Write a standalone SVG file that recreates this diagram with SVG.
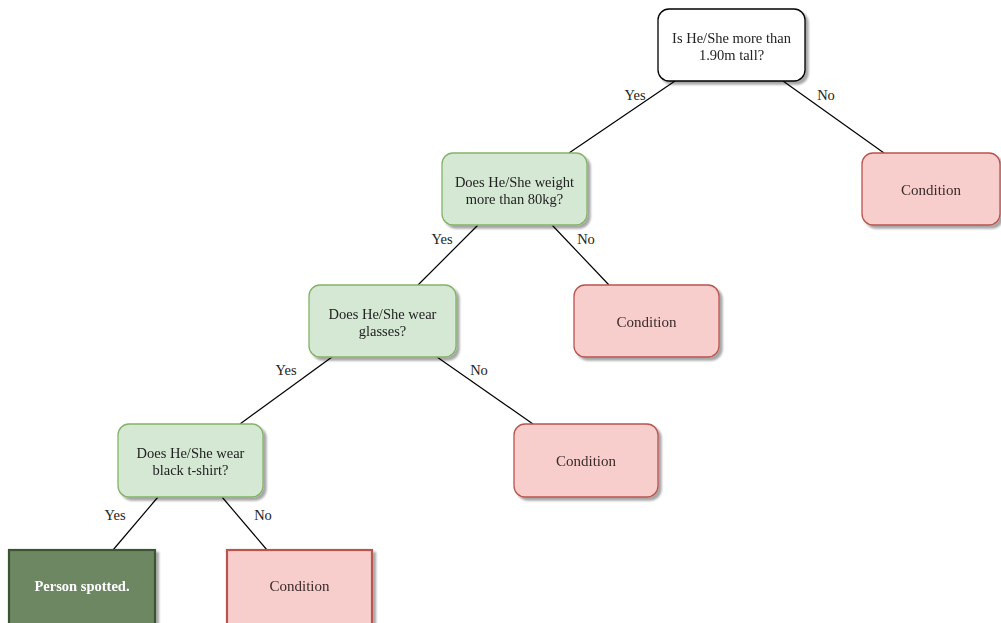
<svg xmlns="http://www.w3.org/2000/svg" width="1001" height="623" viewBox="0 0 1001 623">
  <defs>
    <filter id="shadow" x="-10%" y="-10%" width="130%" height="140%">
      <feGaussianBlur in="SourceAlpha" stdDeviation="1.2"/>
      <feOffset dx="3" dy="3" result="off"/>
      <feComponentTransfer><feFuncA type="linear" slope="0.35"/></feComponentTransfer>
      <feMerge><feMergeNode/><feMergeNode in="SourceGraphic"/></feMerge>
    </filter>
  </defs>
  <style>
    .q { fill: #ffffff; stroke: #000000; stroke-width: 1.3; }
    .g { fill: #d5e8d4; stroke: #82b366; stroke-width: 1.3; }
    .p { fill: #f8cecc; stroke: #b85450; stroke-width: 1.3; }
    .pb { fill: #f8cecc; stroke: #b85450; stroke-width: 2.2; }
    .ok { fill: #6d8764; stroke: #3a5431; stroke-width: 2.2; }
    text { font-family: "Liberation Serif", "Times New Roman", serif; font-size: 14.5px; fill: #222; text-anchor: middle; }
    .c { font-size: 15px; fill: #3a2a2a; }
    .lbl { font-size: 14.5px; fill: #222; }
    .w { fill: #ffffff; font-weight: bold; }
    .edge { stroke: #000000; stroke-width: 1.2; fill: none; }
  </style>
  <rect width="1001" height="623" fill="#ffffff"/>

  <!-- connectors -->
  <g id="connectors">
    <line class="edge" x1="675" y1="81" x2="569" y2="153"/>
    <line class="edge" x1="783" y1="81" x2="884" y2="153"/>
    <line class="edge" x1="478" y1="225" x2="418" y2="285"/>
    <line class="edge" x1="552" y1="225" x2="609" y2="285"/>
    <line class="edge" x1="332" y1="357" x2="240" y2="424"/>
    <line class="edge" x1="437" y1="357" x2="533" y2="424"/>
    <line class="edge" x1="158" y1="497" x2="113" y2="550"/>
    <line class="edge" x1="222" y1="497" x2="267" y2="550"/>
    <text class="lbl" x="635" y="100">Yes</text>
    <text class="lbl" x="826" y="100">No</text>
    <text class="lbl" x="442" y="244">Yes</text>
    <text class="lbl" x="586" y="244">No</text>
    <text class="lbl" x="286" y="375">Yes</text>
    <text class="lbl" x="479" y="375">No</text>
    <text class="lbl" x="115" y="520">Yes</text>
    <text class="lbl" x="263" y="520">No</text>
  </g>

  <g id="tall" filter="url(#shadow)">
    <rect class="q" x="658" y="9" width="147" height="72" rx="11"/>
    <text x="731.5" y="43">Is He/She more than</text>
    <text x="731.5" y="60">1.90m tall?</text>
  </g>

  <g id="weight" filter="url(#shadow)">
    <rect class="g" x="442" y="153" width="145" height="72" rx="11"/>
    <text x="514.5" y="187">Does He/She weight</text>
    <text x="514.5" y="204">more than 80kg?</text>
  </g>

  <g id="cond-tall-no" filter="url(#shadow)">
    <rect class="p" x="862" y="153" width="138" height="72" rx="11"/>
    <text class="c" x="931" y="195">Condition</text>
  </g>

  <g id="glasses" filter="url(#shadow)">
    <rect class="g" x="309" y="285" width="147" height="72" rx="11"/>
    <text x="382.5" y="319">Does He/She wear</text>
    <text x="382.5" y="336">glasses?</text>
  </g>

  <g id="cond-weight-no" filter="url(#shadow)">
    <rect class="p" x="574" y="285" width="145" height="72" rx="11"/>
    <text class="c" x="646.5" y="327">Condition</text>
  </g>

  <g id="tshirt" filter="url(#shadow)">
    <rect class="g" x="118" y="424" width="145" height="73" rx="11"/>
    <text x="190.5" y="458">Does He/She wear</text>
    <text x="190.5" y="475">black t-shirt?</text>
  </g>

  <g id="cond-glasses-no" filter="url(#shadow)">
    <rect class="p" x="514" y="424" width="144" height="73" rx="11"/>
    <text class="c" x="586" y="466">Condition</text>
  </g>

  <g id="spotted" filter="url(#shadow)">
    <rect class="ok" x="9" y="550" width="146" height="75"/>
    <text class="w" x="82" y="591">Person spotted.</text>
  </g>

  <g id="cond-tshirt-no" filter="url(#shadow)">
    <rect class="pb" x="227" y="550" width="145" height="75"/>
    <text class="c" x="299.5" y="591">Condition</text>
  </g>
</svg>
